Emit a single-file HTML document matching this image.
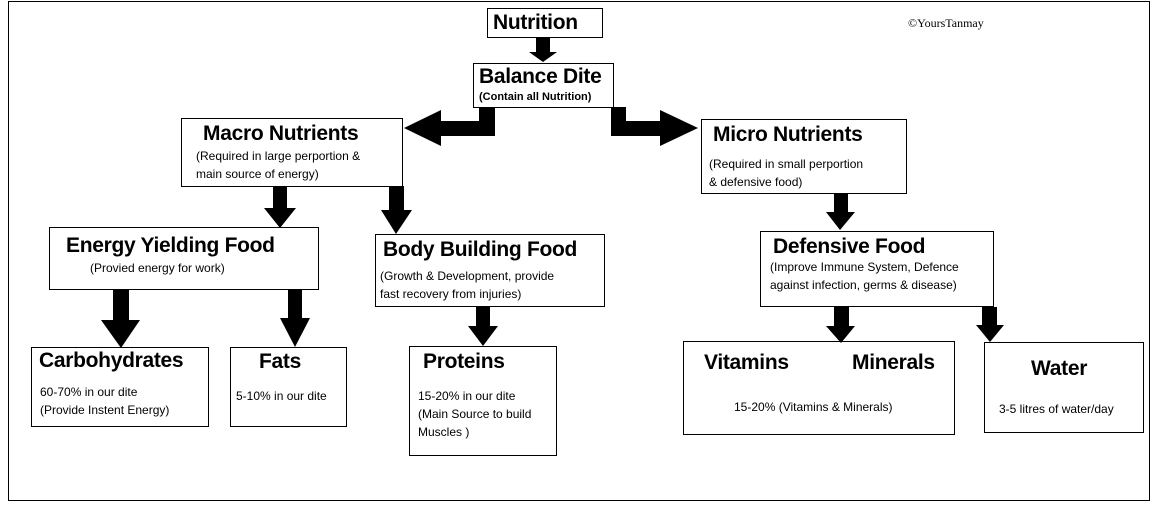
<!DOCTYPE html>
<html><head><meta charset="utf-8"><style>
body{margin:0;background:#fff;width:1157px;height:528px;overflow:hidden;position:relative;font-family:"Liberation Sans",sans-serif;color:#000}
.b{position:absolute;border:1px solid #000;box-sizing:border-box;background:#fff}
.t{position:absolute;font-weight:bold;font-size:21px;white-space:nowrap;letter-spacing:-0.3px;margin-top:2px}
.s{position:absolute;font-size:12px;white-space:nowrap;line-height:18px}
svg{position:absolute;left:0;top:0}
</style></head><body>
<div class="b" style="left:8px;top:1px;width:1142px;height:500px"></div>
<div class="b" style="left:487px;top:8px;width:116px;height:30px"></div>
<div class="b" style="left:473px;top:63px;width:141px;height:45px"></div>
<div class="b" style="left:181px;top:118px;width:222px;height:69px"></div>
<div class="b" style="left:701px;top:119px;width:206px;height:75px"></div>
<div class="b" style="left:49px;top:227px;width:270px;height:63px"></div>
<div class="b" style="left:375px;top:234px;width:230px;height:73px"></div>
<div class="b" style="left:31px;top:347px;width:178px;height:80px"></div>
<div class="b" style="left:230px;top:347px;width:117px;height:80px"></div>
<div class="b" style="left:409px;top:346px;width:148px;height:110px"></div>
<div class="b" style="left:760px;top:231px;width:234px;height:76px"></div>
<div class="b" style="left:683px;top:341px;width:272px;height:94px"></div>
<div class="b" style="left:984px;top:342px;width:160px;height:91px"></div>
<svg width="1157" height="528">
<g fill="#000">
<polygon points="536,38 550,38 550,52 557,52 543,62 529,52 536,52"/>
<polygon points="479,107 495,107 495,136 441,136 441,146 404,128 441,110 441,121 479,121"/>
<polygon points="611,107 626,107 626,121 660,121 660,110 698,128 660,146 660,136 611,136"/>
<polygon points="273,186 287,186 287,208 296,208 280,228 264,208 273,208"/>
<polygon points="389,186 404,186 404,210 412,210 396,234 381,210 389,210"/>
<polygon points="113,289 129,289 129,320 140,320 121,348 101,320 113,320"/>
<polygon points="288,289 302,289 302,318 310,318 295,347 280,318 288,318"/>
<polygon points="476,306 490,306 490,326 498,326 483,346 468,326 476,326"/>
<polygon points="834,193 848,193 848,212 855,212 840,230 826,212 834,212"/>
<polygon points="834,307 849,307 849,326 855,326 841,343 826,326 834,326"/>
<polygon points="982,307 997,307 997,325 1004,325 990,342 976,325 982,325"/>
</g></svg>
<div class="t" style="left:493px;top:9px">Nutrition</div>
<div class="s" style="left:908px;top:14px;font-family:'Liberation Serif',serif;font-size:12px">©YoursTanmay</div>
<div class="t" style="left:479px;top:63px">Balance Dite</div>
<div class="s" style="left:479px;top:88px;font-weight:bold;font-size:11px">(Contain all Nutrition)</div>
<div class="t" style="left:203px;top:120px">Macro Nutrients</div>
<div class="s" style="left:196px;top:147px">(Required in large perportion &amp;<br>main source of energy)</div>
<div class="t" style="left:713px;top:121px">Micro Nutrients</div>
<div class="s" style="left:709px;top:155px">(Required in small perportion<br>&amp; defensive food)</div>
<div class="t" style="left:66px;top:232px">Energy Yielding Food</div>
<div class="s" style="left:90px;top:259px">(Provied energy for work)</div>
<div class="t" style="left:383px;top:236px">Body Building Food</div>
<div class="s" style="left:380px;top:267px">(Growth &amp; Development, provide<br>fast recovery from injuries)</div>
<div class="t" style="left:39px;top:347px">Carbohydrates</div>
<div class="s" style="left:40px;top:383px">60-70% in our dite<br>(Provide Instent Energy)</div>
<div class="t" style="left:259px;top:348px">Fats</div>
<div class="s" style="left:236px;top:387px">5-10% in our dite</div>
<div class="t" style="left:423px;top:348px">Proteins</div>
<div class="s" style="left:418px;top:387px">15-20% in our dite<br>(Main Source to build<br>Muscles )</div>
<div class="t" style="left:773px;top:233px">Defensive Food</div>
<div class="s" style="left:770px;top:258px">(Improve Immune System, Defence<br>against infection, germs &amp; disease)</div>
<div class="t" style="left:704px;top:349px">Vitamins</div>
<div class="t" style="left:852px;top:349px">Minerals</div>
<div class="s" style="left:734px;top:398px">15-20% (Vitamins &amp; Minerals)</div>
<div class="t" style="left:1031px;top:355px">Water</div>
<div class="s" style="left:999px;top:400px">3-5 litres of water/day</div>
</body></html>
